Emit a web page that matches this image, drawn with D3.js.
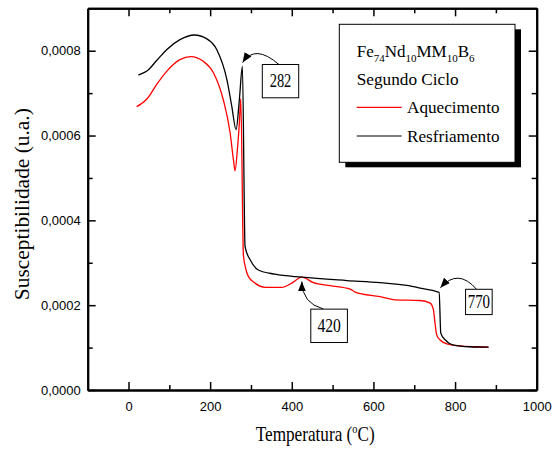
<!DOCTYPE html>
<html>
<head>
<meta charset="utf-8">
<script src="https://cdn.jsdelivr.net/npm/d3@7"></script>
<style>
  html, body { margin: 0; padding: 0; background: #fff; }
  svg { display: block; }
  .tick text { font-family: "Liberation Sans", Arial, sans-serif; font-size: 13px; fill: #000; }
  .serif { font-family: "Liberation Serif", "Times New Roman", serif; fill: #000; }
</style>
</head>
<body>
<svg id="chart" width="558" height="450"></svg>
<script>
// Heating curve (Aquecimento): temperature in °C and susceptibility (u.a.)
const heatT = [20, 30, 45, 70, 94, 126, 153, 183, 208, 232, 249, 257, 261, 266.7, 271.6, 275,
  281.5, 288, 293.6, 310, 335, 375, 400, 424.5, 453, 494, 543, 555, 616, 653, 714, 739, 747,
  751, 755, 763.5, 780, 812, 850, 882];
const heatChi = [0.000668, 0.000674, 0.000686, 0.000722, 0.000752, 0.000779, 0.000786, 0.000775,
  0.000748, 0.000685, 0.000606, 0.000543, 0.000517, 0.000567, 0.000630, 0.000687,
  0.000318, 0.000283, 0.000268, 0.000252, 0.000242, 0.000242, 0.000252, 0.000266, 0.000253,
  0.000246, 0.000238, 0.000231, 0.000220, 0.0002125, 0.000211, 0.000205, 0.000189,
  0.000157, 0.000130, 0.000118, 0.000109, 0.000104, 0.000102, 0.000101];

// Cooling curve (Resfriamento)
const coolT = [24, 30, 45, 70, 94, 126, 161, 192, 216, 241, 253, 263.5, 271.6, 279, 285.5, 298,
  318, 359, 424.5, 535, 616, 698, 714.5, 755, 761, 765, 776, 796, 837, 882];
const coolChi = [0.000743, 0.000745, 0.000752, 0.000778, 0.000803, 0.000826, 0.000837, 0.000828,
  0.000803, 0.000732, 0.000669, 0.000614, 0.000685, 0.000763, 0.000338, 0.000307,
  0.000283, 0.000273, 0.000266, 0.000258, 0.000253, 0.000244, 0.000240, 0.000232, 0.000230,
  0.000134, 0.000118, 0.000106, 0.000102, 0.000101];

// Axis ticks
const xMajorTicks = [0, 200, 400, 600, 800, 1000];
const xMinorTicks = [100, 300, 500, 700, 900];
const yMajorTicks = [0, 0.0002, 0.0004, 0.0006, 0.0008];
const yMinorTicks = [0.0001, 0.0003, 0.0005, 0.0007];

// Annotated transition temperatures
const annLabels = ["282", "420", "770"];
const annT = [279.5, 424.5, 764];
const annChi = [0.000772, 0.000256, 0.000241];

const seriesNames = ["Aquecimento", "Resfriamento"];
const seriesColors = ["#ff0000", "#000000"];

const svg = d3.select("#chart");
const plotLeft = 87.7, plotRight = 536.7, plotTop = 8.3, plotBottom = 390;

const x = d3.scaleLinear().domain([-100, 1000]).range([plotLeft, plotRight]);
const y = d3.scaleLinear().domain([0, 0.0009]).range([plotBottom, plotTop]);

const loc = d3.formatLocale({ decimal: ",", thousands: ".", grouping: [3], currency: ["", ""] });
const fmtY = loc.format(".4f");

// Frame and ticks (all ticks point inward)
function styleAxis(g) {
  g.select(".domain").attr("stroke", "#000").attr("stroke-width", 2);
  g.selectAll(".tick line").attr("stroke", "#000").attr("stroke-width", 1.5);
}
svg.append("g").attr("transform", `translate(0,${plotBottom})`)
  .call(d3.axisBottom(x).tickValues(xMajorTicks).tickSizeInner(-8).tickSizeOuter(0).tickPadding(11.5).tickFormat(d3.format("d")))
  .call(styleAxis);
svg.append("g").attr("transform", `translate(0,${plotBottom})`)
  .call(d3.axisBottom(x).tickValues(xMinorTicks).tickSizeInner(-5).tickSizeOuter(0).tickFormat(""))
  .call(styleAxis);
svg.append("g").attr("transform", `translate(0,${plotTop})`)
  .call(d3.axisTop(x).tickValues(xMajorTicks).tickSizeInner(-8).tickSizeOuter(0).tickFormat(""))
  .call(styleAxis);
svg.append("g").attr("transform", `translate(0,${plotTop})`)
  .call(d3.axisTop(x).tickValues(xMinorTicks).tickSizeInner(-5).tickSizeOuter(0).tickFormat(""))
  .call(styleAxis);
svg.append("g").attr("transform", `translate(${plotLeft},0)`)
  .call(d3.axisLeft(y).tickValues(yMajorTicks).tickSizeInner(-8).tickSizeOuter(0).tickPadding(7).tickFormat(fmtY))
  .call(styleAxis);
svg.append("g").attr("transform", `translate(${plotLeft},0)`)
  .call(d3.axisLeft(y).tickValues(yMinorTicks).tickSizeInner(-5).tickSizeOuter(0).tickFormat(""))
  .call(styleAxis);
svg.append("g").attr("transform", `translate(${plotRight},0)`)
  .call(d3.axisRight(y).tickValues(yMajorTicks).tickSizeInner(-8).tickSizeOuter(0).tickFormat(""))
  .call(styleAxis);
svg.append("g").attr("transform", `translate(${plotRight},0)`)
  .call(d3.axisRight(y).tickValues(yMinorTicks).tickSizeInner(-5).tickSizeOuter(0).tickFormat(""))
  .call(styleAxis);

// Curves
const line = d3.line().x(d => x(d[0])).y(d => y(d[1])).curve(d3.curveMonotoneX);
const series = [d3.zip(heatT, heatChi), d3.zip(coolT, coolChi)];
svg.append("g")
  .selectAll("path").data(series).join("path")
  .attr("d", line)
  .attr("fill", "none")
  .attr("stroke", (d, i) => seriesColors[i])
  .attr("stroke-width", 1.3)
  .attr("stroke-linejoin", "round");

// Axis titles (condensed serif)
const xTitle = svg.append("g")
  .attr("transform", `translate(${(plotLeft + plotRight) / 2 + 3},440.5) scale(0.86,1)`)
  .append("text").attr("class", "serif")
  .attr("text-anchor", "middle").attr("font-size", 20);
xTitle.append("tspan").text("Temperatura (");
xTitle.append("tspan").attr("font-size", 12).attr("dy", -8).text("o");
xTitle.append("tspan").attr("dy", 8).text("C)");

svg.append("g")
  .attr("transform", `translate(29,${(plotTop + plotBottom) / 2 + 5}) rotate(-90)`)
  .append("text").attr("class", "serif")
  .attr("text-anchor", "middle").attr("font-size", 20)
  .attr("textLength", 192).attr("lengthAdjust", "spacingAndGlyphs")
  .text("Susceptibilidade (u.a.)");

// Legend with drop shadow
const lg = svg.append("g");
const lx = 339.3, ly = 24.3, lw = 175.7, lh = 138;
lg.append("rect").attr("x", lx + 6).attr("y", ly + 5).attr("width", lw).attr("height", lh).attr("fill", "#000");
lg.append("rect").attr("x", lx).attr("y", ly).attr("width", lw).attr("height", lh)
  .attr("fill", "#fff").attr("stroke", "#000").attr("stroke-width", 1);

// Alloy formula with subscripts
const formula = lg.append("g")
  .attr("transform", `translate(${lx + 17.4},${ly + 32.4})`)
  .append("text").attr("class", "serif").attr("font-size", 17);
[["Fe", "74"], ["Nd", "10"], ["MM", "10"], ["B", "6"]].forEach(([el, n], i) => {
  formula.append("tspan").attr("font-size", 17).attr("dy", i === 0 ? 0 : -5).text(el);
  formula.append("tspan").attr("font-size", 11).attr("dy", 5).text(n);
});
lg.append("text").attr("class", "serif").attr("x", lx + 17.4).attr("y", ly + 60.7)
  .attr("font-size", 17).attr("textLength", 102).attr("lengthAdjust", "spacingAndGlyphs").text("Segundo Ciclo");
seriesNames.forEach((name, i) => {
  const yy = ly + 83 + i * 28.7;
  lg.append("line").attr("x1", lx + 17.4).attr("x2", lx + 62.4).attr("y1", yy).attr("y2", yy)
    .attr("stroke", seriesColors[i]).attr("stroke-width", 1.2);
  lg.append("text").attr("class", "serif").attr("x", lx + 67.7).attr("y", yy + 5.8)
    .attr("font-size", 17).attr("textLength", 92.5).attr("lengthAdjust", "spacingAndGlyphs").text(name);
});

// Arrowhead marker
svg.append("defs").append("marker")
  .attr("id", "arrow").attr("viewBox", "0 0 10 10")
  .attr("refX", 10).attr("refY", 5)
  .attr("markerWidth", 10).attr("markerHeight", 10)
  .attr("markerUnits", "userSpaceOnUse")
  .attr("orient", "auto")
  .append("path").attr("d", "M0,1 L10,5 L0,9 Z").attr("fill", "#000");

// Annotation boxes: offset of box from arrow tip, box size, arrow start and control point
const annLayout = [
  { bx: 19.7, by: 1.9, bw: 36.4, bh: 33.3, sx: 36.4, sy: 2, cx: 12.4, cy: -19, tl: 21.7 },
  { bx: 9, by: 27.7, bw: 36.6, bh: 33.4, sx: 21.5, sy: 27.5, cx: 0.3, cy: 22, tl: 23.4 },
  { bx: 25.2, by: 1.5, bw: 26.6, bh: 25.3, sx: 36.2, sy: 1.5, cx: 17.5, cy: -20, tl: 22.4 }
];
annLabels.forEach((lab, i) => {
  const tx = x(annT[i]), ty = y(annChi[i]);
  const L = annLayout[i];
  const g = svg.append("g");
  g.append("path")
    .attr("d", `M${tx + L.sx},${ty + L.sy} Q${tx + L.cx},${ty + L.cy} ${tx},${ty}`)
    .attr("fill", "none").attr("stroke", "#000").attr("stroke-width", 1)
    .attr("marker-end", "url(#arrow)");
  g.append("rect").attr("x", tx + L.bx).attr("y", ty + L.by).attr("width", L.bw).attr("height", L.bh)
    .attr("fill", "#fff").attr("stroke", "#000").attr("stroke-width", 1);
  g.append("text").attr("class", "serif")
    .attr("x", tx + L.bx + L.bw / 2).attr("y", ty + L.by + L.bh / 2 + 6)
    .attr("text-anchor", "middle").attr("font-size", 18)
    .attr("textLength", L.tl).attr("lengthAdjust", "spacingAndGlyphs")
    .text(lab);
});
</script>
</body>
</html>
